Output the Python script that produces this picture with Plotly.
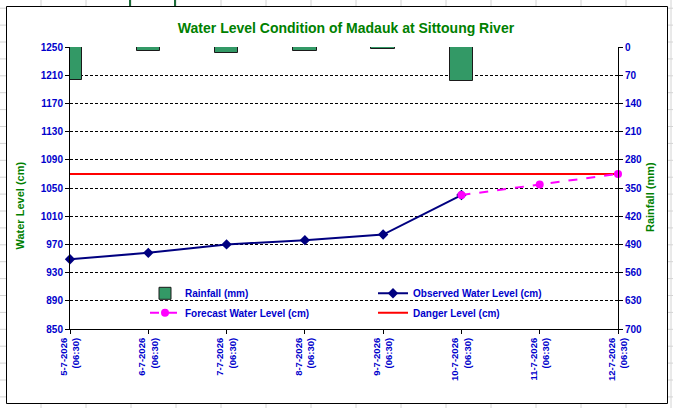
import plotly.graph_objects as go

# ---------------- data ----------------
categories = ["5-7-2026<br>(06:30)", "6-7-2026<br>(06:30)", "7-7-2026<br>(06:30)",
              "8-7-2026<br>(06:30)", "9-7-2026<br>(06:30)", "10-7-2026<br>(06:30)",
              "11-7-2026<br>(06:30)", "12-7-2026<br>(06:30)"]
rainfall_mm = [82, 10, 15, 10, 6, 85, None, None]
observed_cm = [949, 958, 970, 976, 984, 1040]
forecast_cm = [1040, 1055, 1070]
danger_cm = 1070
left_ticks = [850, 890, 930, 970, 1010, 1050, 1090, 1130, 1170, 1210, 1250]
right_ticks = [0, 70, 140, 210, 280, 350, 420, 490, 560, 630, 700]

# ---------------- layout helpers ----------------
W, H = 673, 408
L, R, T, B = 70, 618, 47, 329
FONT = "Liberation Sans, Arial, sans-serif"
BLUE = "#0000CC"
GREEN = "#008000"

def px(x):
    return (x - L) / (R - L)

def py(y):
    return (B - y) / (B - T)

idx = list(range(len(categories)))
obs_x = idx[:len(observed_cm)]
fc_x = idx[len(observed_cm) - 1:len(observed_cm) - 1 + len(forecast_cm)]

fig = go.Figure()

fig.add_trace(go.Bar(
    x=idx, y=rainfall_mm, yaxis="y2", width=0.3, name="Rainfall (mm)",
    marker=dict(color="#339966", line=dict(color="#1a1a1a", width=1)),
    legend="legend", legendrank=1, hoverinfo="y",
))
fig.add_trace(go.Scatter(
    x=[idx[0], idx[-1]], y=[danger_cm, danger_cm], mode="lines", name="Danger Level (cm)",
    line=dict(color="#FF0000", width=2), legend="legend2", legendrank=2, cliponaxis=False,
))
fig.add_trace(go.Scatter(
    x=obs_x, y=observed_cm, mode="lines+markers", name="Observed Water Level (cm)",
    line=dict(color="#000080", width=2),
    marker=dict(symbol="diamond", size=8, color="#000080"),
    legend="legend", legendrank=2, cliponaxis=False,
))
fig.add_trace(go.Scatter(
    x=fc_x, y=forecast_cm, mode="lines+markers", name="Forecast Water Level (cm)",
    line=dict(color="#FF00FF", width=2, dash="dash"),
    marker=dict(symbol="circle", size=8, color="#FF00FF"),
    legend="legend2", legendrank=1, cliponaxis=False,
))

# spreadsheet background + chart frame
shapes = []
for k in range(16):
    x = 41 + 45 * k
    shapes.append(dict(type="line", xref="paper", yref="paper", x0=px(x), x1=px(x),
                       y0=py(0), y1=py(H), line=dict(color="#D4D4D4", width=1), layer="below"))
for k in range(-2, 24):
    y = 8.2 + 16.9 * k
    shapes.append(dict(type="line", xref="paper", yref="paper", x0=px(0), x1=px(W),
                       y0=py(y), y1=py(y), line=dict(color="#D4D4D4", width=1), layer="below"))
for x in (130, 175):
    shapes.append(dict(type="line", xref="paper", yref="paper", x0=px(x), x1=px(x),
                       y0=py(0), y1=py(6), line=dict(color="#1E6B3A", width=2), layer="below"))
shapes.append(dict(type="rect", xref="paper", yref="paper", x0=px(6.5), x1=px(667.5),
                   y0=py(6.5), y1=py(403.5), fillcolor="white",
                   line=dict(color="black", width=1), layer="below"))

annotations = [
    dict(text="Water Level (cm)", xref="paper", yref="paper", x=px(19.5), y=py(206),
         textangle=-90, showarrow=False, xanchor="center", yanchor="middle",
         font=dict(family=FONT, size=11, color=GREEN, weight="bold")),
    dict(text="Rainfall (mm)", xref="paper", yref="paper", x=px(650), y=py(197),
         textangle=-90, showarrow=False, xanchor="center", yanchor="middle",
         font=dict(family=FONT, size=11, color=GREEN, weight="bold")),
]

legend_font = dict(family=FONT, size=10, color=BLUE, weight="bold")

fig.update_layout(
    width=W, height=H,
    margin=dict(l=L, r=W - R, t=T, b=H - B, pad=0),
    paper_bgcolor="white",
    plot_bgcolor="#CCFFFF",
    font=dict(family=FONT, size=10, color=BLUE, weight="bold"),
    title=dict(text="Water Level Condition of Madauk at Sittoung River",
               x=346 / W, xanchor="center", xref="container",
               y=1 - 28 / H, yanchor="middle", yref="container",
               font=dict(family=FONT, size=14, color=GREEN, weight="bold")),
    xaxis=dict(range=[idx[0], idx[-1]], tickmode="array", tickvals=idx, ticktext=categories,
               tickangle=-90, showgrid=False, zeroline=False,
               showline=True, linecolor="black", linewidth=1,
               ticks="outside", ticklen=4, tickcolor="black",
               tickfont=dict(family=FONT, size=9.5, color=BLUE, weight="bold")),
    yaxis=dict(range=[left_ticks[0], left_ticks[-1]], tickmode="array", tickvals=left_ticks,
               showgrid=True, gridcolor="black", gridwidth=1, griddash="3px,2px",
               zeroline=False, showline=True, linecolor="black", linewidth=1,
               ticks="outside", ticklen=4, tickcolor="black",
               tickfont=dict(family=FONT, size=10, color=BLUE, weight="bold")),
    yaxis2=dict(range=[right_ticks[-1], right_ticks[0]], tickmode="array", tickvals=right_ticks,
                overlaying="y", side="right", showgrid=False, zeroline=False,
                showline=True, linecolor="black", linewidth=1,
                ticks="outside", ticklen=4, tickcolor="black",
                tickfont=dict(family=FONT, size=10, color=BLUE, weight="bold")),
    legend=dict(orientation="h", x=px(145), y=py(293.3), xanchor="left", yanchor="middle",
                bgcolor="rgba(0,0,0,0)", borderwidth=0, entrywidth=183, entrywidthmode="pixels",
                font=legend_font, traceorder="normal"),
    legend2=dict(orientation="h", x=px(145), y=py(312.7), xanchor="left", yanchor="middle",
                 bgcolor="rgba(0,0,0,0)", borderwidth=0, entrywidth=183, entrywidthmode="pixels",
                 font=legend_font, traceorder="normal"),
    shapes=shapes,
    annotations=annotations,
    bargap=0,
)

fig.write_html("out.html", config={"displayModeBar": False},
               post_script="document.body.style.margin='0px';")
